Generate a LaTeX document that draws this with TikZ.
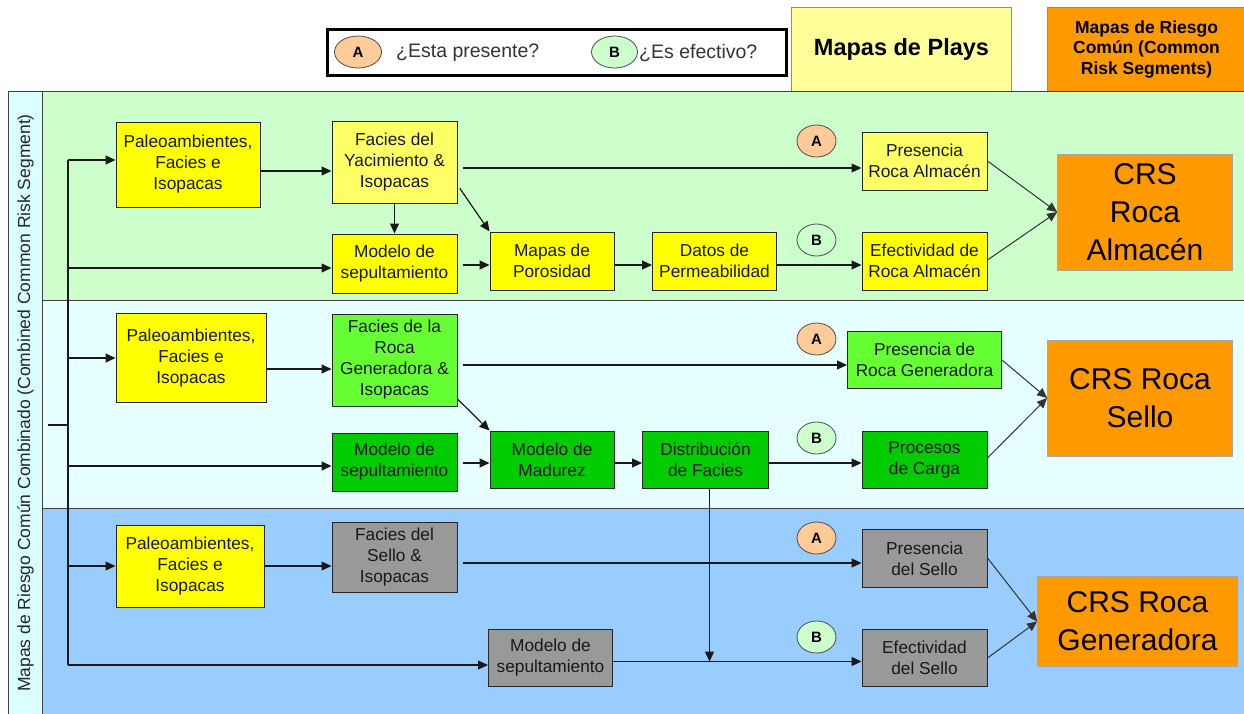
\documentclass[tikz,border=0pt]{standalone}
\usepackage{fontspec}
\setmainfont{Liberation Sans}
\usetikzlibrary{arrows.meta,calc,shapes.geometric}
\definecolor{bandA}{HTML}{CCFFCC}
\definecolor{bandB}{HTML}{E6FFFF}
\definecolor{bandC}{HTML}{99CCFF}
\definecolor{side}{HTML}{D9FFFF}
\definecolor{yel}{HTML}{FFFF00}
\definecolor{lyel}{HTML}{FFFF66}
\definecolor{pyel}{HTML}{FFFF99}
\definecolor{lgrn}{HTML}{66FF33}
\definecolor{grn}{HTML}{00CC00}
\definecolor{gry}{HTML}{999999}
\definecolor{org}{HTML}{FF9900}
\definecolor{peach}{HTML}{FFCC99}
\definecolor{mint}{HTML}{CCFFCC}
\begin{document}
\begin{tikzpicture}[x=1pt,y=-1pt,
  box/.style={draw=black!85,line width=1pt,align=center,inner sep=2pt,font=\fontsize{17.3}{21}\selectfont,text=black!90},
  crs/.style={draw=black!35,line width=0.8pt,fill=org,align=center,inner sep=2pt,font=\fontsize{30}{38}\selectfont},
  flag/.style={ellipse,draw=black!70,line width=0.8pt,minimum width=39pt,minimum height=32pt,inner sep=0pt,font=\fontsize{15}{15}\selectfont\bfseries},
  arr/.style={line width=1.2pt,draw=black!90,-{Triangle[length=10pt,width=9pt]}},
  ln/.style={line width=1.2pt,draw=black!90},
  carr/.style={line width=1pt,draw=black!80,-{Triangle[length=10pt,width=9pt]}},
  band/.style={draw=black!75,line width=0.9pt}
]
\useasboundingbox (0,0) rectangle (1244,713);
\fill[white] (0,0) rectangle (1244,713);

% header
\node[draw=black,line width=3pt,minimum width=459pt,minimum height=46pt,inner sep=0pt] (legend) at (556.5,52.5) {};
\node[flag,fill=peach,minimum width=47pt] (la) at (358,52) {A};
\node[anchor=west,inner sep=0pt,font=\fontsize{19.5}{22}\selectfont,text=black!80] (lat) at (396,53) {¿Esta presente?};
\node[flag,fill=mint,minimum width=46pt] (lb) at (614.5,52) {B};
\node[anchor=west,inner sep=0pt,font=\fontsize{19.5}{22}\selectfont,text=black!80] (lbt) at (639,53) {¿Es efectivo?};
\node[draw=black!45,line width=0.8pt,fill=pyel,minimum width=220pt,minimum height=85pt,font=\fontsize{23.5}{26}\selectfont\bfseries] (plays) at (901.5,49.5) {Mapas de Plays};
\node[draw=black!45,line width=0.8pt,fill=org,minimum width=199pt,minimum height=85pt,align=center,font=\fontsize{17.5}{20.7}\selectfont\bfseries] (crshead) at (1146.5,49.5) {Mapas de Riesgo\\Común (Common\\Risk Segments)};

% bands
\draw[band,fill=bandA] (42,91) rectangle (1250,300);
\draw[band,fill=bandB] (42,300) rectangle (1250,508);
\draw[band,fill=bandC] (42,508) rectangle (1250,720);
\draw[band,fill=side] (8,91) rectangle (42,720);
\node[rotate=90,font=\fontsize{17.5}{20}\selectfont,text=black!85] (sidet) at (25.5,403) {Mapas de Riesgo Común Combinado (Combined Common Risk Segment)};

% band 1 nodes
\node[box,fill=yel,minimum width=144pt,minimum height=85pt] (p1) at (188,164.5) {Paleoambientes,\\Facies e\\Isopacas};
\node[box,fill=lyel,minimum width=125pt,minimum height=82pt] (f1) at (394.5,162) {Facies del\\Yacimiento \&\\Isopacas};
\node[box,fill=yel,minimum width=125pt,minimum height=59pt] (m1) at (394.5,263.5) {Modelo de\\sepultamiento};
\node[box,fill=yel,minimum width=124pt,minimum height=58pt] (por) at (552,261) {Mapas de\\Porosidad};
\node[box,fill=yel,minimum width=124pt,minimum height=58pt] (perm) at (714.5,261) {Datos de\\Permeabilidad};
\node[box,fill=lyel,minimum width=125pt,minimum height=58pt] (pra) at (924.5,161) {Presencia\\Roca Almacén};
\node[box,fill=yel,minimum width=125pt,minimum height=58pt] (era) at (924.5,261) {Efectividad de\\Roca Almacén};
\node[crs,minimum width=175pt,minimum height=116pt] (crs1) at (1145,212) {CRS\\Roca\\Almacén};
\node[flag,fill=peach] (a1) at (816.5,141) {A};
\node[flag,fill=mint] (b1) at (816.5,240) {B};

% band 2 nodes
\node[box,fill=yel,minimum width=150pt,minimum height=89pt] (p2) at (191,358) {Paleoambientes,\\Facies e\\Isopacas};
\node[box,fill=lgrn,minimum width=125pt,minimum height=92pt] (f2) at (394.5,360) {Facies de la\\Roca\\Generadora \&\\Isopacas};
\node[box,fill=grn,minimum width=125pt,minimum height=58pt] (m2) at (394.5,462) {Modelo de\\sepultamiento};
\node[box,fill=grn,minimum width=124pt,minimum height=57pt] (mad) at (552,459.5) {Modelo de\\Madurez};
\node[box,fill=grn,minimum width=126pt,minimum height=57pt] (dist) at (705.5,459.5) {Distribución\\de Facies};
\node[box,fill=lgrn,minimum width=154pt,minimum height=57pt] (prg) at (924.5,360) {Presencia de\\Roca Generadora};
\node[box,fill=grn,minimum width=125pt,minimum height=57pt] (pc) at (924.5,459.5) {Procesos\\de Carga};
\node[crs,minimum width=185pt,minimum height=116pt] (crs2) at (1140,398) {CRS Roca\\Sello};
\node[flag,fill=peach] (a2) at (816.5,339) {A};
\node[flag,fill=mint] (b2) at (816.5,438) {B};

% band 3 nodes
\node[box,fill=yel,minimum width=148pt,minimum height=82pt] (p3) at (190,566) {Paleoambientes,\\Facies e\\Isopacas};
\node[box,fill=gry,minimum width=125pt,minimum height=70pt] (f3) at (394.5,557.5) {Facies del\\Sello \&\\Isopacas};
\node[box,fill=gry,minimum width=124pt,minimum height=57pt] (m3) at (550.5,657.5) {Modelo de\\sepultamiento};
\node[box,fill=gry,minimum width=125pt,minimum height=58pt] (ps) at (924.5,558.5) {Presencia\\del Sello};
\node[box,fill=gry,minimum width=125pt,minimum height=57pt] (es) at (924.5,657.5) {Efectividad\\del Sello};
\node[crs,minimum width=200pt,minimum height=90pt] (crs3) at (1137.5,621.5) {CRS Roca\\Generadora};
\node[flag,fill=peach] (a3) at (816.5,538) {A};
\node[flag,fill=mint] (b3) at (816.5,637) {B};

% trunk
\coordinate (t1) at (68,160);
\coordinate (t2) at (68,268);
\coordinate (t3) at (68,358);
\coordinate (t4) at (68,466);
\coordinate (t5) at (68,566);
\coordinate (t6) at (68,665);
\coordinate (stub) at (48,425);
\coordinate (stubj) at (68,425);
\draw[ln] (t1) -- (t6);
\draw[ln] (stub) -- (stubj);

% band 1 connectors
\draw[arr] (t1) -- (p1.west |- t1);
\draw[arr] (t2) -- (m1.west |- t2);
\draw[arr] (p1.east |- 0,171) -- (f1.west |- 0,171);
\draw[arr] (f1.south) -- (m1.north);
\draw[arr,shorten <=4pt] (f1.east |- 0,185) -- (por.north west);
\draw[arr,shorten <=5pt] (f1.east |- 0,168) -- (pra.west |- 0,168);
\draw[arr,shorten <=5pt] (m1.east |- 0,265) -- (por.west |- 0,265);
\draw[arr] (por.east |- 0,265) -- (perm.west |- 0,265);
\draw[arr] (perm.east |- 0,265) -- (era.west |- 0,265);
\draw[carr] (pra.east |- 0,161) -- (crs1.west);
\draw[carr] (era.east |- 0,260) -- (crs1.west);

% band 2 connectors
\draw[arr] (t3) -- (p2.west |- t3);
\draw[arr] (t4) -- (m2.west |- t4);
\draw[arr] (p2.east |- 0,369) -- (f2.west |- 0,369);
\draw[arr,shorten <=5pt] (f2.east |- 0,365) -- (prg.west |- 0,365);
\draw[arr] (f2.east |- 0,399) -- (mad.north west);
\draw[arr,shorten <=5pt] (m2.east |- 0,463) -- (mad.west |- 0,463);
\draw[arr] (mad.east |- 0,463) -- (dist.west |- 0,463);
\draw[arr] (dist.east |- 0,463) -- (pc.west |- 0,463);
\draw[carr] (prg.east |- 0,360) -- (crs2.west);
\draw[carr] (pc.east |- 0,458) -- (crs2.west);

% band 3 connectors
\draw[arr] (t5) -- (p3.west |- t5);
\draw[arr] (t6) -- (m3.west |- t6);
\draw[arr] (p3.east |- 0,566) -- (f3.west |- 0,566);
\draw[arr,shorten <=5pt] (f3.east |- 0,563) -- (ps.west |- 0,563);
\draw[arr] (m3.east |- 0,661.5) -- (es.west |- 0,661.5);
\coordinate (dj) at (709.5,661.5);
\draw[arr] (dist.south -| dj) -- (dj);
\draw[carr] (ps.east |- 0,558) -- (crs3.west);
\draw[carr] (es.east |- 0,658) -- (crs3.west);
\end{tikzpicture}
\end{document}
